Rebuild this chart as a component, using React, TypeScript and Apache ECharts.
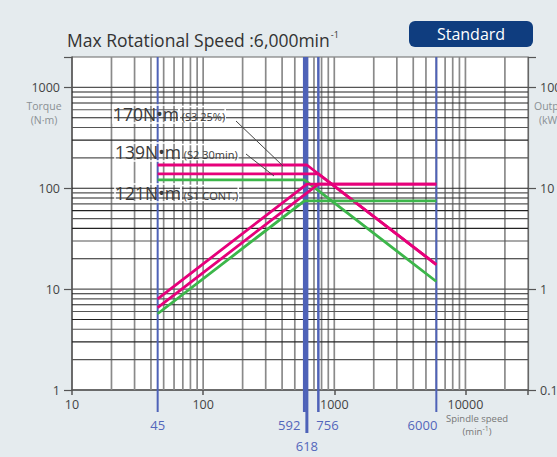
import React, { useEffect, useRef } from 'react';
import * as echarts from 'echarts';

const FONT = "'Open Sans', 'Noto Sans', sans-serif";

// Axis ranges
const speedMin = 10;
const speedMax = 30000;
const torqueMin = 1;
const torqueMax = 2000;
const powerMin = 0.1;
const powerMax = 200;

// Grid line positions (log minor lines)
const speedGrid = [20, 30, 40, 50, 60, 70, 80, 90, 100, 200, 300, 400, 500, 600, 700, 800, 900, 1000, 2000, 3000, 4000, 5000, 6000, 7000, 8000, 9000, 10000, 20000];
const torqueGrid = [2, 3, 4, 5, 6, 7, 8, 9, 10, 20, 30, 40, 50, 60, 70, 80, 90, 100, 200, 300, 400, 500, 600, 700, 800, 900, 1000];

// Marked speeds (blue lines)
const markedSpeeds = [45, 592, 618, 756, 6000];

// Torque curves (N·m) vs speed (min-1)
const torqueS3 = [[45, 170], [618, 170], [6000, 17.5]];
const torqueS2 = [[45, 139], [756, 139], [6000, 17.5]];
const torqueS1 = [[45, 121], [592, 121], [6000, 11.9]];

// Output curves (kW) vs speed
const powerS3 = [[45, 0.8], [618, 11], [6000, 11]];
const powerS2 = [[45, 0.655], [756, 11], [6000, 11]];
const powerS1 = [[45, 0.57], [592, 7.5], [6000, 7.5]];

const PINK = '#e6007a';
const GREEN = '#3cb64a';
const BLUE = '#4e62b8';

// label layout of marked speeds (style only)
const markedLayout = [
  { align: 'center', dx: 0, row: 0, width: 2 },
  { align: 'right', dx: -4, row: 0, width: 3 },
  { align: 'center', dx: 0, row: 1, width: 3 },
  { align: 'left', dx: -2, row: 0, width: 2.5 },
  { align: 'right', dx: 1, row: 0, width: 2 },
];

const isPow10 = (v: number) => Math.abs(Math.log10(v) - Math.round(Math.log10(v))) < 1e-6;

export default function App() {
  const ref = useRef<HTMLDivElement>(null);
  useEffect(() => {
    if (!ref.current) return;
    const chart = echarts.init(ref.current, undefined, { renderer: 'svg' });

    const curve = (name: string, data: number[][], color: string, yAxisIndex: number) => ({
      name,
      type: 'line',
      data,
      yAxisIndex,
      symbol: 'none',
      z: 5,
      lineStyle: { color, width: 2.8 },
      itemStyle: { color },
    });

    const annot = (text: string, small: string, x: number, y: number) => ({
      type: 'text', x, y, z: 20,
      style: {
        text: `{a|${text}}{b| ${small}}`, verticalAlign: 'middle',
        rich: {
          a: { fontSize: 17.5, fill: '#3a3a3a', fontFamily: FONT, textBorderColor: '#fff', textBorderWidth: 1.5 },
          b: { fontSize: 11, fill: '#3a3a3a', fontFamily: FONT, textBorderColor: '#fff', textBorderWidth: 1.5, padding: [4, 0, 0, 0] },
        },
      },
    });

    const option: any = {
      animation: false,
      backgroundColor: '#e5ebee',
      textStyle: { fontFamily: FONT },
      grid: {
        left: 72, right: 29, top: 57, bottom: 67,
        outerBoundsMode: 'none',
        containLabel: false,
        show: true, backgroundColor: '#ffffff', borderColor: '#666', borderWidth: 1,
      },
      xAxis: {
        type: 'log', logBase: 10, min: speedMin, max: speedMax,
        axisLine: { show: true, lineStyle: { color: '#555', width: 1.5 } },
        axisTick: { show: true, length: 5, lineStyle: { color: '#555', width: 1.5 } },
        axisLabel: {
          color: '#444', fontSize: 12.5, margin: 8, fontFamily: FONT,
          formatter: (v: number) => (isPow10(v) ? String(Math.round(v)) : ''),
        },
        splitLine: { show: false },
      },
      yAxis: [
        {
          type: 'log', logBase: 10, min: torqueMin, max: torqueMax, position: 'left',
          axisLine: { show: true, lineStyle: { color: '#555', width: 1.5 } },
          axisTick: { show: true, length: 8, lineStyle: { color: '#555', width: 1.2 } },
          axisLabel: {
            color: '#444', fontSize: 12.5, margin: 12, fontFamily: FONT,
            formatter: (v: number) => (isPow10(v) ? String(Math.round(v)) : ''),
          },
          splitLine: { show: false },
        },
        {
          type: 'log', logBase: 10, min: powerMin, max: powerMax, position: 'right',
          axisLine: { show: true, lineStyle: { color: '#666', width: 1.2 } },
          axisTick: { show: true, length: 8, lineStyle: { color: '#555', width: 1.2 } },
          axisLabel: {
            color: '#444', fontSize: 12.5, margin: 12, fontFamily: FONT,
            formatter: (v: number) => (isPow10(v) ? (v < 1 ? v.toFixed(1) : String(Math.round(v))) : ''),
          },
          splitLine: { show: false },
        },
      ],
      series: [
        {
          type: 'custom', name: 'vgrid', z: 1, silent: true, clip: true,
          data: speedGrid.map((v) => [v, torqueMin]),
          renderItem: (params: any, api: any) => {
            const v = api.value(0);
            const p1 = api.coord([v, torqueMin]);
            const p2 = api.coord([v, torqueMax]);
            return { type: 'line', shape: { x1: p1[0], y1: p1[1], x2: p2[0], y2: p2[1] }, style: { stroke: '#8a8a8a', lineWidth: 1.7 } };
          },
        },
        {
          type: 'custom', name: 'hgrid', z: 2, silent: true, clip: true,
          data: torqueGrid.map((v) => [speedMin, v]),
          renderItem: (params: any, api: any) => {
            const v = api.value(1);
            const p1 = api.coord([speedMin, v]);
            const p2 = api.coord([speedMax, v]);
            const dark = params.dataIndex % 2 === 1;
            return { type: 'line', shape: { x1: p1[0], y1: p1[1], x2: p2[0], y2: p2[1] }, style: { stroke: dark ? '#222' : '#555', lineWidth: 1.2 } };
          },
        },
        {
          type: 'custom', name: 'marked', z: 3, silent: true, clip: false,
          data: markedSpeeds.map((v) => [v, torqueMin]),
          renderItem: (params: any, api: any) => {
            const v = api.value(0);
            const lay = markedLayout[params.dataIndex];
            const top = api.coord([v, torqueMax]);
            const bot = api.coord([v, torqueMin]);
            const ext = lay.row === 0 ? 22 : 43;
            const ly = bot[1] + (lay.row === 0 ? 35 : 56);
            return {
              type: 'group',
              children: [
                { type: 'line', shape: { x1: top[0], y1: top[1], x2: top[0], y2: bot[1] + ext }, style: { stroke: BLUE, lineWidth: lay.width } },
                { type: 'text', x: top[0] + lay.dx, y: ly, style: { text: String(v), fill: '#5366bb', fontSize: 13, fontFamily: FONT, align: lay.align, verticalAlign: 'middle' } },
              ],
            };
          },
        },
        curve('S3 torque', torqueS3, PINK, 0),
        curve('S2 torque', torqueS2, PINK, 0),
        curve('S1 torque', torqueS1, GREEN, 0),
        curve('S3 output', powerS3, PINK, 1),
        curve('S2 output', powerS2, PINK, 1),
        curve('S1 output', powerS1, GREEN, 1),
      ],
      graphic: [
        {
          type: 'text', left: 67, top: 30, z: 10,
          style: {
            text: '{a|Max Rotational Speed :6,000min}{b|-1}',
            rich: {
              a: { fontSize: 17.5, fill: '#333', fontFamily: FONT },
              b: { fontSize: 9, fill: '#333', fontFamily: FONT, padding: [0, 0, 10, 1] },
            },
          },
        },
        { type: 'rect', shape: { x: 409, y: 21, width: 124, height: 26, r: 6 }, style: { fill: '#0f3d7f' }, z: 10 },
        { type: 'text', x: 471, y: 34, z: 11, style: { text: 'Standard', fill: '#fff', fontSize: 16, fontFamily: FONT, align: 'center', verticalAlign: 'middle' } },
        { type: 'text', x: 44, y: 106, z: 10, style: { text: 'Torque', fill: '#8a9094', fontSize: 10.5, fontFamily: FONT, align: 'center', verticalAlign: 'middle' } },
        { type: 'text', x: 44, y: 120, z: 10, style: { text: '(N·m)', fill: '#8a9094', fontSize: 10.5, fontFamily: FONT, align: 'center', verticalAlign: 'middle' } },
        { type: 'text', x: 534, y: 106, z: 10, style: { text: 'Output', fill: '#8a9094', fontSize: 10.5, fontFamily: FONT, align: 'left', verticalAlign: 'middle' } },
        { type: 'text', x: 539, y: 120, z: 10, style: { text: '(kW)', fill: '#8a9094', fontSize: 10.5, fontFamily: FONT, align: 'left', verticalAlign: 'middle' } },
        { type: 'text', x: 477, y: 418, z: 10, style: { text: 'Spindle speed', fill: '#777', fontSize: 9.5, fontFamily: FONT, align: 'center', verticalAlign: 'middle' } },
        {
          type: 'text', x: 477, y: 431, z: 10,
          style: {
            text: '{a|(min}{b|-1}{a|)}', align: 'center', verticalAlign: 'middle',
            rich: { a: { fontSize: 9.5, fill: '#777', fontFamily: FONT }, b: { fontSize: 7, fill: '#777', fontFamily: FONT, padding: [0, 0, 5, 0] } },
          },
        },
        annot('170N•m', '(S3 25%)', 113, 114),
        annot('139N•m', '(S2 30min)', 115, 152),
        annot('121N•m', '(S1 CONT.)', 115, 193),
        { type: 'line', z: 20, shape: { x1: 236, y1: 121, x2: 283, y2: 166 }, style: { stroke: '#444', lineWidth: 1 } },
        { type: 'line', z: 20, shape: { x1: 246, y1: 154, x2: 274, y2: 176 }, style: { stroke: '#444', lineWidth: 1 } },
      ],
    };

    chart.setOption(option);
    return () => chart.dispose();
  }, []);

  return <div ref={ref} style={{ position: 'fixed', left: 0, top: 0, width: 557, height: 457 }} />;
}
